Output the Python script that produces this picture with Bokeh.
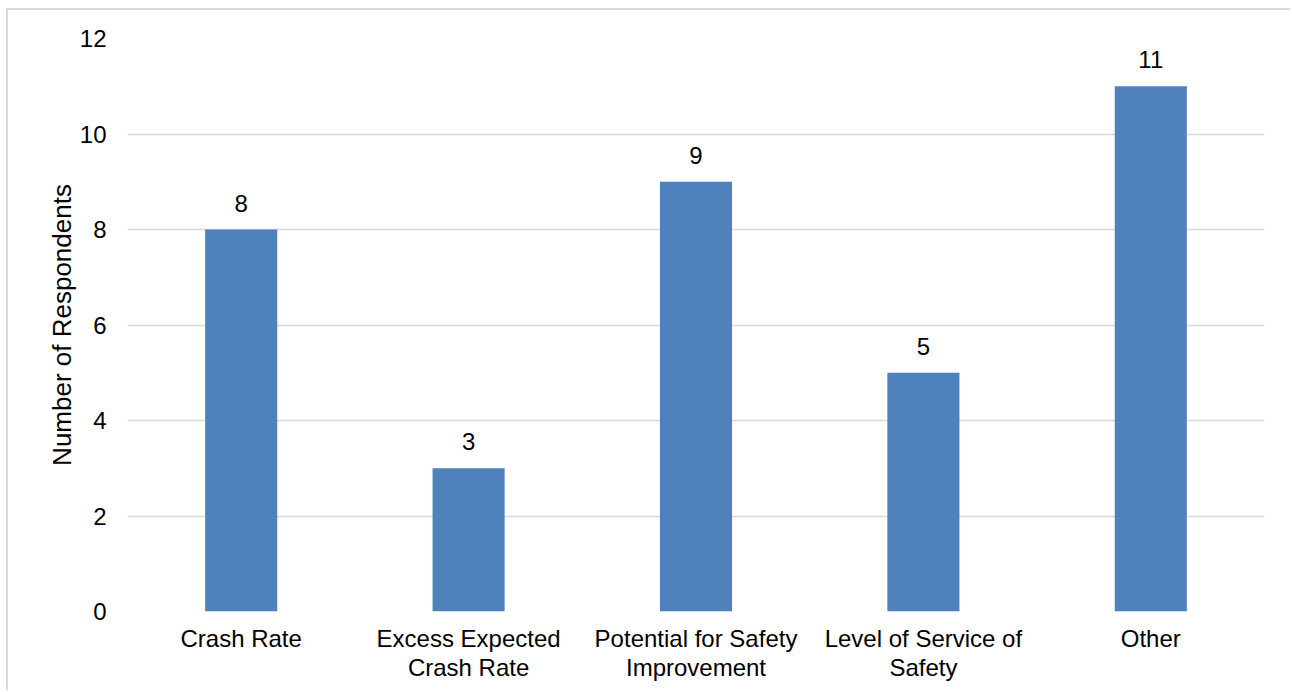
from bokeh.plotting import figure
from bokeh.models import ColumnDataSource, FixedTicker, Range1d, LabelSet
from bokeh.core.properties import value
from bokeh.embed import file_html
from bokeh.resources import INLINE

categories = ["Crash Rate", "Excess Expected\nCrash Rate", "Potential for Safety\nImprovement",
              "Level of Service of\nSafety", "Other"]
values = [8, 3, 9, 5, 11]
y_ticks = [0, 2, 4, 6, 8, 10, 12]

FONT = "Liberation Sans"
xs = list(range(len(categories)))
src = ColumnDataSource(dict(x=xs, top=values, label=[str(v) for v in values]))

W, H = 1284, 682
p = figure(width=W, height=H, output_backend="svg", toolbar_location=None,
           x_range=Range1d(-0.5, len(categories) - 0.5), y_range=Range1d(0, 12),
           min_border_left=119, min_border_right=28, min_border_top=28, min_border_bottom=81)
p.styles = {"border-left": "2px solid #D9D9D9", "border-top": "2px solid #D9D9D9",
            "margin-left": "6px", "margin-top": "8px"}
p.outline_line_color = None
p.background_fill_color = "white"
p.border_fill_color = "white"

p.vbar(x="x", top="top", bottom=0, width=0.317, source=src, fill_color="#4F81BD", line_color=None)

labels = LabelSet(x="x", y="top", text="label", source=src, text_align="center",
                  text_baseline="bottom", y_offset=18, text_font=value(FONT),
                  text_font_size=value("24px"), text_color=value("#000000"))
p.add_layout(labels)

p.xgrid.grid_line_color = None
p.ygrid.grid_line_color = "#D9D9D9"
p.ygrid.grid_line_width = 1.5
p.yaxis.ticker = FixedTicker(ticks=y_ticks)
p.xaxis.ticker = FixedTicker(ticks=xs)
p.xaxis.major_label_overrides = {i: c for i, c in enumerate(categories)}

for ax in (p.xaxis[0], p.yaxis[0]):
    ax.axis_line_color = None
    ax.major_tick_line_color = None
    ax.minor_tick_line_color = None
    ax.major_label_text_font = FONT
    ax.major_label_text_color = "#000000"
p.yaxis.major_label_text_font_size = "24px"
p.yaxis.major_label_standoff = 15
p.xaxis.major_label_text_font_size = "24px"
p.xaxis.major_label_standoff = 7
p.xaxis.major_label_text_line_height = 1.1

p.yaxis.axis_label = "Number of Respondents"
p.yaxis.axis_label_text_font = FONT
p.yaxis.axis_label_text_font_style = "normal"
p.yaxis.axis_label_text_font_size = "26px"
p.yaxis.axis_label_text_color = "#000000"
p.yaxis.axis_label_standoff = 0

open("out.html", "w").write(file_html(p, INLINE))
